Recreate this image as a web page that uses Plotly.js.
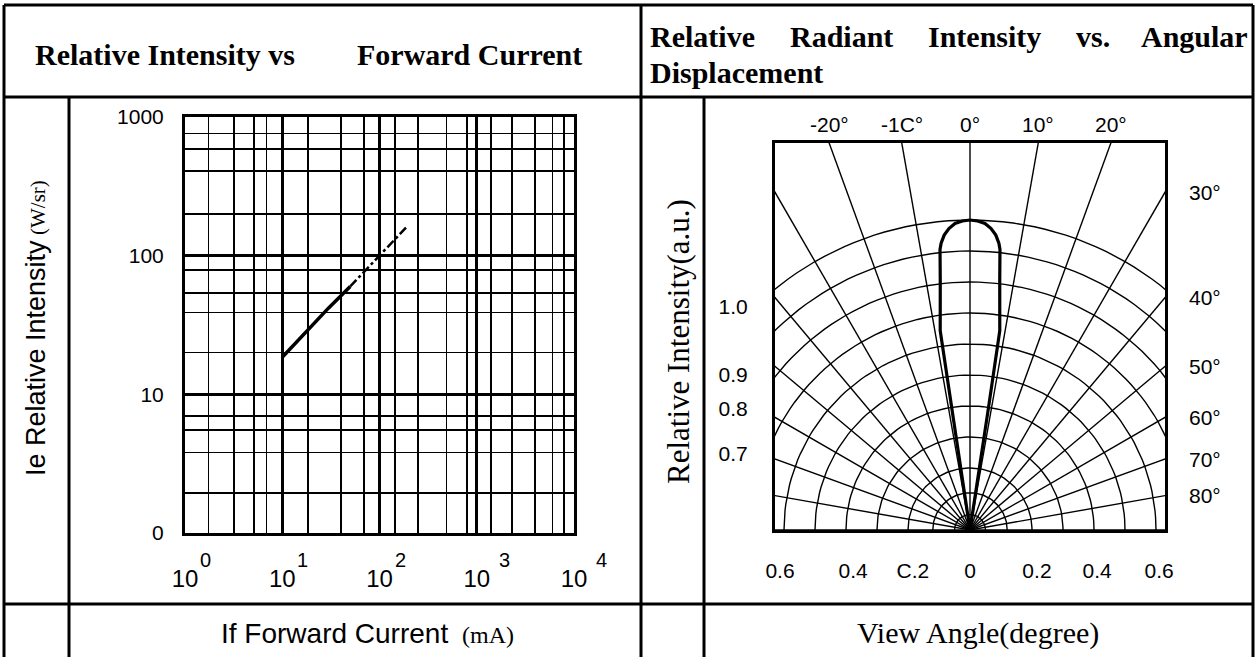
<!DOCTYPE html>
<html><head><meta charset="utf-8">
<script src="https://cdn.plot.ly/plotly-3.0.1.min.js"></script>
<style>html,body{margin:0;padding:0;background:#fff;overflow:hidden}#chart{width:1258px;height:657px}</style>
</head><body><div id="chart"></div>
<script>
// ---------- Data: Relative Intensity vs Forward Current ----------
const forwardCurrent    = [10, 20, 30, 50, 70, 100, 150, 195];      // mA
const relativeIntensity = [18.5, 31, 42, 60, 77, 100, 135, 164];    // W/sr
const solidUntil = 4; // points drawn with solid line, rest dash-dot

// ---------- Data: Relative Radiant Intensity vs Angular Displacement ----------
const viewAngle        = [-9, -8.7, -8.6, -8.5, -6.8, -6.1, -5.75, -5.0, -4.0, -2.8, -1.4, 0, 1.4, 2.8, 4.0, 5.0, 5.75, 6.1, 6.8, 8.5, 8.6, 8.7, 9];
const radiantIntensity = [0, 0.15, 0.40, 0.65, 0.81, 0.91, 0.93, 0.955, 0.975, 0.99, 0.997, 1.0, 0.997, 0.99, 0.975, 0.955, 0.93, 0.91, 0.81, 0.65, 0.40, 0.15, 0];

// ---------- Tick labels / grid ----------
const xDecades      = [1, 10, 100, 1000, 10000];
const xDecadeBase   = ['10', '10', '10', '10', '10'];
const xExponents    = ['0', '1', '2', '3', '4'];
const xMinorGrid    = [1.75, 3.2, 5.1, 6.9, 18.5, 40, 69, 145, 250, 490, 795, 1410, 2290, 3980, 6030, 7940];
const yDecades      = [1, 10, 100, 1000];
const yDecadeLabels = ['0', '10', '100', '1000'];
const yMinorGrid    = [1.95, 3.8, 5.5, 7, 20, 39, 54, 79, 200, 407, 589, 759];

const ringRadii   = [0.05, 0.12, 0.2, 0.3, 0.4, 0.5, 0.6, 0.7, 0.8, 0.9, 1.0];
const spokeAngles = [-90, -80, -70, -60, -50, -40, -30, -20, -10, 0, 10, 20, 30, 40, 50, 60, 70, 80, 90];
const topAngles       = [-20, -10, 0, 10, 20];
const topAngleLabels  = ['-20°', '-1C°', '0°', '10°', '20°'];
const sideAngles      = [30, 40, 50, 60, 70, 80];
const sideAngleLabels = ['30°', '40°', '50°', '60°', '70°', '80°'];
const polarXTickVals = [-0.613, -0.377, -0.184, 0, 0.216, 0.41, 0.61];
const polarXTickText = ['0.6', '0.4', 'C.2', '0', '0.2', '0.4', '0.6'];
const polarYTickVals = [0.72, 0.5, 0.39, 0.245];
const polarYTickText = ['1.0', '0.9', '0.8', '0.7'];

// ---------- Geometry helpers ----------
const W = 1258, H = 657;
const fx = p => p / W, fy = p => 1 - p / H;
const L = {l: 185, r: 574, t: 117, b: 533};          // log plot box (px)
const P = {l: 775, r: 1165, t: 143, b: 530};          // polar box (px)
const unitPx = 310;                                   // px per 1.0 intensity
const pcx = (P.l + P.r) / 2;
const xHalf = (P.r - pcx) / unitPx, yTop = (P.b - P.t) / unitPx;
const rad = d => d * Math.PI / 180;

const tickFont = {family: 'Liberation Sans, Arial, sans-serif', size: 21, color: '#000'};

// grid traces for polar panel
const spokeX = [], spokeY = [];
spokeAngles.forEach(a => { spokeX.push(0, 3 * Math.sin(rad(a)), null); spokeY.push(0, 3 * Math.cos(rad(a)), null); });
const ringX = [], ringY = [];
ringRadii.forEach(r => { for (let a = -90; a <= 90; a += 2) { ringX.push(r * Math.sin(rad(a))); ringY.push(r * Math.cos(rad(a))); } ringX.push(null); ringY.push(null); });

const traces = [
  {x: forwardCurrent.slice(0, solidUntil), y: relativeIntensity.slice(0, solidUntil), xaxis: 'x', yaxis: 'y',
   mode: 'lines', line: {color: '#000', width: 3.5}},
  {x: forwardCurrent.slice(solidUntil - 1), y: relativeIntensity.slice(solidUntil - 1), xaxis: 'x', yaxis: 'y',
   mode: 'lines', line: {color: '#000', width: 2.5, dash: 'dashdot'}},
  {x: spokeX, y: spokeY, xaxis: 'x2', yaxis: 'y2', mode: 'lines', line: {color: '#000', width: 1.4}},
  {x: ringX, y: ringY, xaxis: 'x2', yaxis: 'y2', mode: 'lines', line: {color: '#000', width: 1.4}},
  {x: viewAngle.map((a, i) => radiantIntensity[i] * Math.sin(rad(a))),
   y: viewAngle.map((a, i) => radiantIntensity[i] * Math.cos(rad(a))),
   xaxis: 'x2', yaxis: 'y2', mode: 'lines', line: {color: '#000', width: 3.2}}
];

// table lines
const ln = (x0, y0, x1, y1) => ({type: 'line', xref: 'paper', yref: 'paper', x0: fx(x0), y0: fy(y0), x1: fx(x1), y1: fy(y1), line: {color: '#000', width: 3}, layer: 'above'});
const shapes = [
  ln(4, 5, 1253, 5), ln(4, 5, 4, 660), ln(1253, 5, 1253, 660), ln(641, 5, 641, 660),
  ln(4, 97, 1253, 97), ln(4, 604, 1253, 604), ln(69, 97, 69, 660), ln(704, 97, 704, 660)
];

const serif = 'Liberation Serif, Times New Roman, serif';
const sans = 'Liberation Sans, Arial, sans-serif';
const f = (family, size, weight) => ({family, size, color: '#000', weight: weight || 'normal'});
const ann = (text, x, y, xanchor, font, extra) => Object.assign({text, x: fx(x), y: fy(y), xref: 'paper', yref: 'paper',
  showarrow: false, xanchor, yanchor: 'middle', font}, extra || {});
const bold = f(serif, 30, 'bold');

const annotations = [
  ann('Relative Intensity vs', 33, 55, 'left', bold),
  ann('Forward Current', 584, 55, 'right', bold),
  ann('Relative', 648, 36, 'left', bold),
  ann('Radiant', 788, 36, 'left', bold),
  ann('Intensity', 926, 36, 'left', bold),
  ann('vs.', 1074, 36, 'left', bold),
  ann('Angular', 1250, 36, 'right', bold),
  ann('Displacement', 648, 72, 'left', bold),
  ann('Ie Relative Intensity', 36, 358, 'center', f(sans, 27), {textangle: -90}),
  ann('(W/sr)', 38, 208, 'center', f(serif, 21), {textangle: -90}),
  ann('Relative Intensity(a.u.)', 678, 342, 'center', f(serif, 31), {textangle: -90}),
  ann('If Forward Current', 219, 633, 'left', f(sans, 28)),
  ann('(mA)', 460, 635, 'left', f(serif, 24)),
  ann('View Angle(degree)', 978, 633, 'center', f(serif, 30))
];
// decade exponents of the log x axis
xDecades.forEach((v, i) => annotations.push({text: xExponents[i], xref: 'x', yref: 'paper', x: Math.log10(v),
  xshift: i >= 3 ? 20 : 13, y: fy(560), xanchor: 'left', yanchor: 'middle', showarrow: false, font: f(sans, 20)}));
topAngles.forEach((a, i) => annotations.push({text: topAngleLabels[i], xref: 'x2', yref: 'paper',
  x: yTop * Math.tan(rad(a)), y: fy(P.t - 5), xanchor: 'center', yanchor: 'bottom', showarrow: false, font: tickFont}));
sideAngles.forEach((a, i) => annotations.push({text: sideAngleLabels[i], xref: 'paper', yref: 'y2',
  x: fx(P.r + 22), y: xHalf / Math.tan(rad(a)), xanchor: 'left', yanchor: 'middle', showarrow: false, font: tickFont}));

const axBase = {showline: true, mirror: true, linecolor: '#000', linewidth: 3, zeroline: false, ticks: '',
  tickfont: tickFont, fixedrange: true};

const layout = {
  width: W, height: H, margin: {l: 0, r: 0, t: 0, b: 0}, paper_bgcolor: '#fff', plot_bgcolor: '#fff',
  showlegend: false,
  xaxis: Object.assign({}, axBase, {domain: [fx(L.l), fx(L.r)], anchor: 'y', type: 'log', range: [0, 4],
    tickmode: 'array', tickvals: xDecades, ticktext: xDecadeBase, showgrid: true, gridcolor: '#000', gridwidth: 3,
    ticklabelstandoff: 22, tickfont: f(sans, 24),
    minor: {tickmode: 'array', tickvals: xMinorGrid, showgrid: true, gridcolor: '#000', gridwidth: 1.7, ticks: ''}}),
  yaxis: Object.assign({}, axBase, {domain: [fy(L.b), fy(L.t)], anchor: 'x', type: 'log', range: [0, 3],
    tickmode: 'array', tickvals: yDecades, ticktext: yDecadeLabels, showgrid: true, gridcolor: '#000', gridwidth: 3,
    ticklabelstandoff: 14,
    minor: {tickmode: 'array', tickvals: yMinorGrid, showgrid: true, gridcolor: '#000', gridwidth: 1.7, ticks: ''}}),
  xaxis2: Object.assign({}, axBase, {domain: [fx(P.l), fx(P.r)], anchor: 'y2', range: [-xHalf, xHalf],
    tickmode: 'array', tickvals: polarXTickVals, ticktext: polarXTickText, showgrid: false, ticklabelstandoff: 20}),
  yaxis2: Object.assign({}, axBase, {domain: [fy(P.b), fy(P.t)], anchor: 'x2', range: [0, yTop],
    tickmode: 'array', tickvals: polarYTickVals, ticktext: polarYTickText, showgrid: false, ticklabelstandoff: 20}),
  shapes, annotations
};

Plotly.newPlot('chart', traces, layout, {staticPlot: true, displayModeBar: false});
</script></body></html>
